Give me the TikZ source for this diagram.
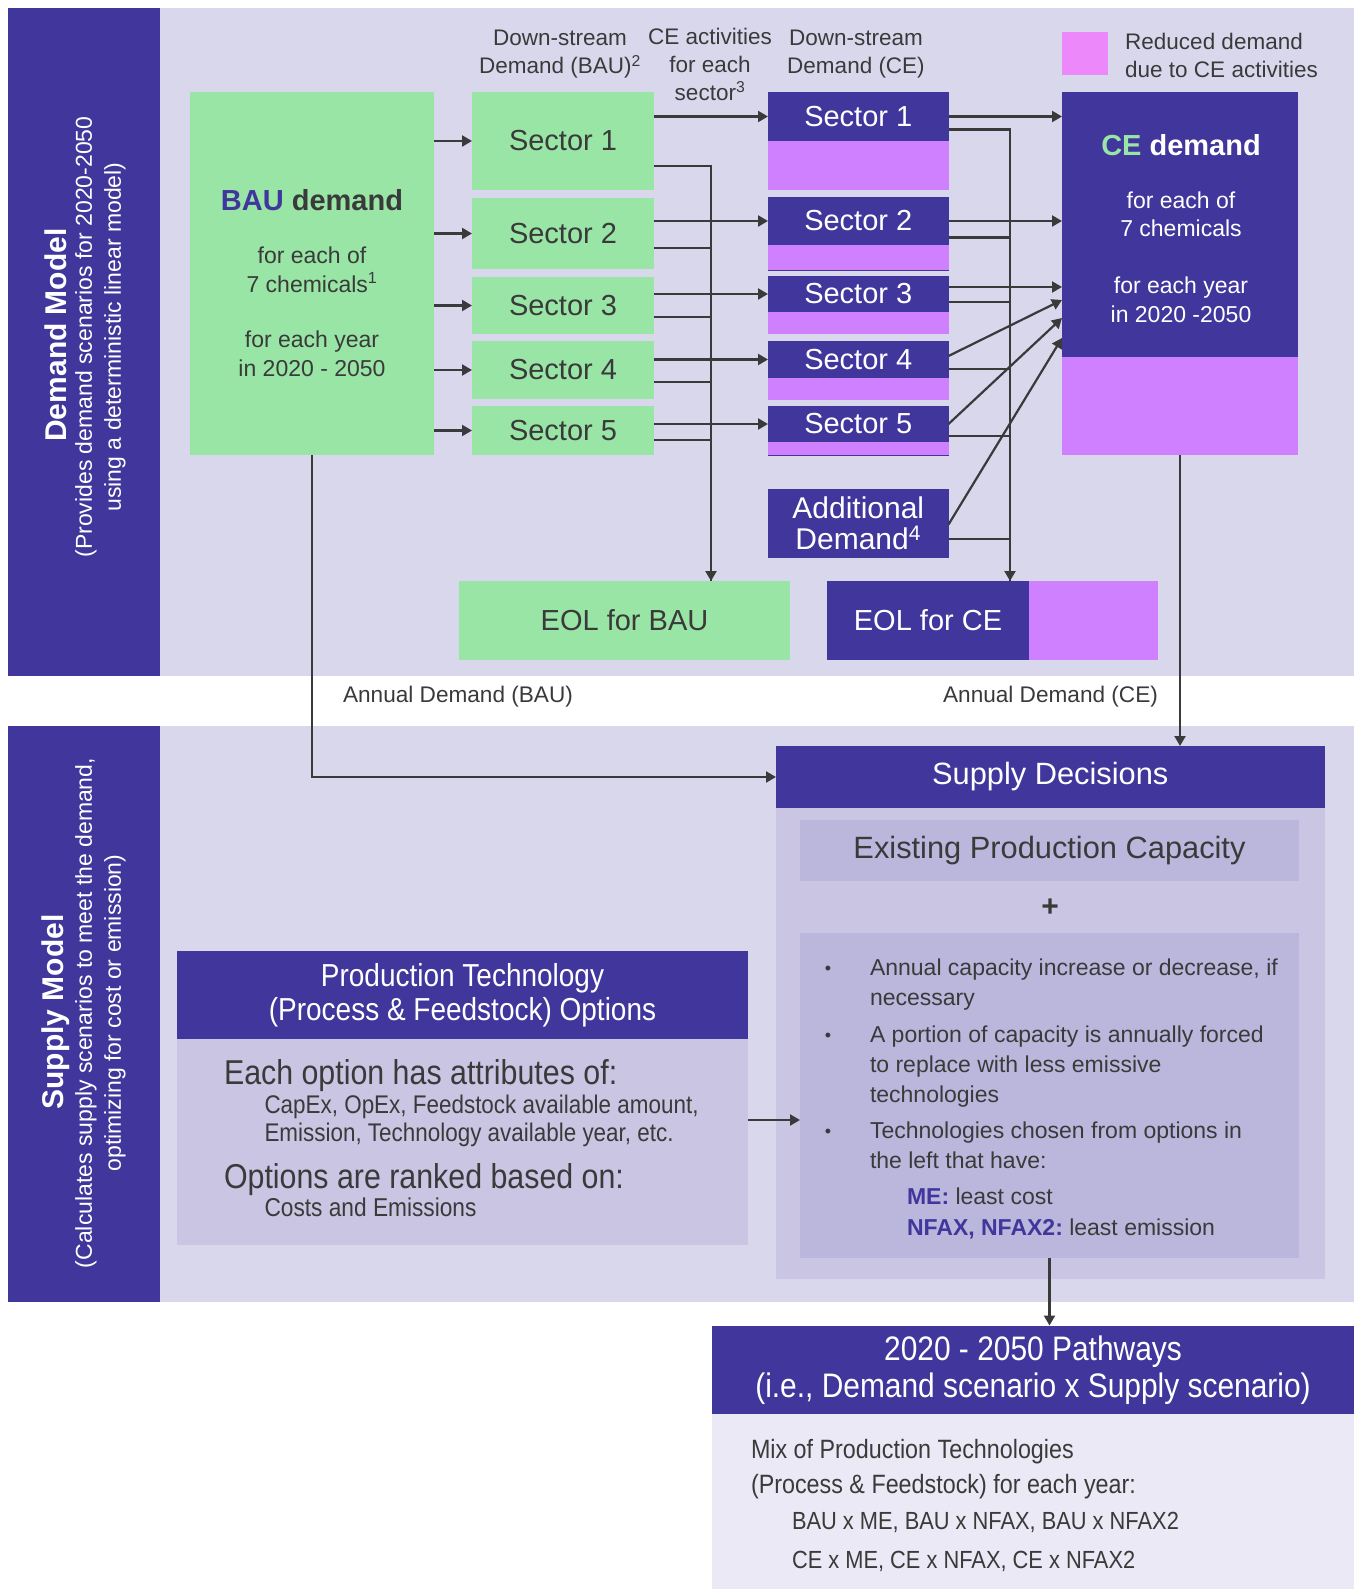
\documentclass[tikz,border=0pt]{standalone}
\usepackage{fontspec}
\setmainfont{Liberation Sans}
\newfontfamily\narrowf[FakeStretch=0.88]{Liberation Sans}
\usetikzlibrary{arrows.meta,calc}
\definecolor{dpurple}{RGB}{65,54,156}
\definecolor{lav}{RGB}{217,215,236}
\definecolor{lgreen}{RGB}{152,229,166}
\definecolor{vpink}{RGB}{206,128,255}
\definecolor{legpink}{RGB}{236,136,250}
\definecolor{midlav}{RGB}{201,197,227}
\definecolor{deeplav}{RGB}{187,182,220}
\definecolor{palelav}{RGB}{235,233,245}
\definecolor{txt}{RGB}{58,58,58}
\newcommand\myfs[2]{\fontsize{#1pt}{#2pt}\selectfont}
\begin{document}
\begin{tikzpicture}[x=1pt,y=-1pt,
  every node/.append style={text=txt},
  arr/.style={draw=txt, line width=2.2pt, -{Triangle[length=10pt,width=11pt]}},
  ln/.style={draw=txt, line width=2.2pt},
  blk/.style={inner sep=0pt, outer sep=0pt, draw=none},
  lbl/.style={inner sep=0pt, outer sep=0pt, align=center},
  lw/.style={inner sep=0pt, outer sep=0pt, anchor=mid west, align=left},
  sect/.style={blk, font=\myfs{29}{35}, minimum width=182pt},
  cesect/.style={blk, fill=dpurple, text=white, font=\myfs{29}{35}, minimum width=180.5pt},
  cepink/.style={blk, fill=vpink, minimum width=180.5pt}
]
\useasboundingbox (0,0) rectangle (1356,1589);
\fill[white] (0,0) rectangle (1356,1589);
% ---------- panels ----------
\fill[lav] (8,8) rectangle (1354,676);
\fill[dpurple] (8,8) rectangle (160,676);
\fill[lav] (8,726) rectangle (1354,1302);
\fill[dpurple] (8,726) rectangle (160,1302);
% side titles
\node[lbl, text=white, rotate=90, font=\myfs{30}{36}\bfseries] (dmt) at (56,335) {Demand Model};
\node[lbl, text=white, rotate=90, font=\myfs{23}{29}] (dms) at (100.5,337) {(Provides demand scenarios for 2020-2050\\using a deterministic linear model)};
\node[lbl, text=white, rotate=90, font=\myfs{30}{36}\bfseries] (smt) at (56,1012) {Supply Model};
\node[lbl, text=white, rotate=90, font=\myfs{23}{29}] (sms) at (100.5,1013) {(Calculates supply scenarios to meet the demand,\\optimizing for cost or emission)};
% ---------- column headings ----------
\node[lbl, font=\myfs{22.5}{28.5}] (h1) at (560,54) {Down-stream\\Demand (BAU)\textsuperscript{2}};
\node[lbl, font=\myfs{22.5}{28}] (h2) at (710,64) {CE activities\\for each\\sector\textsuperscript{3}};
\node[lbl, font=\myfs{22.5}{28.5}] (h3) at (856,54) {Down-stream\\Demand (CE)};
\node[blk, fill=legpink, minimum width=46pt, minimum height=43pt] (leg) at (1085,53.5) {};
\node[inner sep=0pt, anchor=west, align=left, font=\myfs{22.5}{28}] (legt) at (1125,55) {Reduced demand\\due to CE activities};
% ---------- BAU demand ----------
\node[blk, fill=lgreen, minimum width=244pt, minimum height=363pt] (bau) at (312,273.5) {};
\node[lbl, font=\myfs{29}{35}\bfseries] (baut) at (312,200) {\textcolor{dpurple}{BAU} demand};
\node[lbl, font=\myfs{23}{28.5}] (baub) at (312,312) {for each of\\7 chemicals\textsuperscript{1}\\[27pt]for each year\\in 2020 - 2050};
% BAU sectors
\node[sect, fill=lgreen, minimum height=98pt] (bs1) at (563,141) {Sector 1};
\node[sect, fill=lgreen, minimum height=71pt] (bs2) at (563,233.5) {Sector 2};
\node[sect, fill=lgreen, minimum height=57pt] (bs3) at (563,305.5) {Sector 3};
\node[sect, fill=lgreen, minimum height=58pt] (bs4) at (563,370) {Sector 4};
\node[sect, fill=lgreen, minimum height=49pt] (bs5) at (563,430.5) {Sector 5};
% CE sectors
\node[cesect, minimum height=49pt] (cs1) at (858.25,116.5) {Sector 1};
\node[cepink, minimum height=49pt] (cp1) at (858.25,165.5) {};
\node[cesect, minimum height=48pt] (cs2) at (858.25,221) {Sector 2};
\node[cepink, minimum height=25pt] (cp2) at (858.25,257.5) {};
\node[cesect, minimum height=36pt] (cs3) at (858.25,294) {Sector 3};
\node[cepink, minimum height=22pt] (cp3) at (858.25,323) {};
\node[cesect, minimum height=37pt] (cs4) at (858.25,359.5) {Sector 4};
\node[cepink, minimum height=22pt] (cp4) at (858.25,389) {};
\node[cesect, minimum height=36pt] (cs5) at (858.25,424) {Sector 5};
\node[cepink, minimum height=13pt] (cp5) at (858.25,448.5) {};
\draw[dpurple, line width=1pt] (cp2.south west) -- (cp2.south east);
\draw[dpurple, line width=1pt] (cp5.south west) -- (cp5.south east);
\node[cesect, align=center, font=\myfs{30}{31}, minimum height=69pt] (add) at (858.25,523.5) {Additional\\Demand\textsuperscript{4}};
% CE demand
\node[blk, fill=dpurple, minimum width=236pt, minimum height=265pt] (ced) at (1180,224.5) {};
\node[blk, fill=vpink, minimum width=236pt, minimum height=98pt] (cedp) at (1180,406) {};
\node[lbl, text=white, font=\myfs{29}{35}\bfseries] (cedt) at (1181,145) {\textcolor{lgreen}{CE} demand};
\node[lbl, text=white, font=\myfs{23}{28.5}] (cedb) at (1181,256.8) {for each of\\7 chemicals\\[28.5pt]for each year\\in 2020 -2050};
% EOL boxes
\node[blk, fill=lgreen, font=\myfs{29}{35}, minimum width=331pt, minimum height=79pt] (eolb) at (624.5,620.5) {EOL for BAU};
\node[blk, fill=dpurple, text=white, font=\myfs{29}{35}, minimum width=202pt, minimum height=79pt] (eolc) at (928,620.5) {EOL for CE};
\node[blk, fill=vpink, minimum width=129pt, minimum height=79pt] (eolcp) at (1093.5,620.5) {};
% ---------- connectors (demand) ----------
\foreach \s in {bs1,bs2,bs3,bs4,bs5} \draw[arr] (bau.east |- \s) -- (\s.west);
\draw[arr] (bs1.east |- cs1) -- (cs1.west);
\draw[arr] (bs2.east |- cs2) -- (cs2.west);
\draw[arr] (bs3.east |- cs3) -- (cs3.west);
\draw[arr] (bs4.east |- cs4) -- (cs4.west);
\draw[arr] (bs5.east |- cs5) -- (cs5.west);
\coordinate (bcol) at (711,581);
\draw[ln] ($(bs2.east)+(0,14.5)$) -| (bcol);
\draw[ln] ($(bs3.east)+(0,11.5)$) -| (bcol);
\draw[ln] ($(bs4.east)+(0,12)$) -| (bcol);
\draw[ln] ($(bs5.east)+(0,9.5)$) -| (bcol);
\draw[arr] ($(bs1.east)+(0,25)$) -| (bcol);
% CE sectors to CE demand
\draw[arr] (cs1.east) -- (cs1.east -| ced.west);
\draw[arr] (cs2.east) -- (cs2.east -| ced.west);
\draw[arr] ($(cs3.east)+(0,-7)$) -- ($(ced.north west)+(0,195)$);
\draw[arr] ($(cs4.east)+(0,-3.5)$) -- ($(ced.north west)+(0,208)$);
\draw[arr] (cs5.east) -- ($(ced.north west)+(0,226)$);
\draw[arr] ($(add.east)+(0,1)$) -- ($(ced.north west)+(0,246)$);
\coordinate (ccol) at (1010,581);
\draw[ln] ($(cs2.east)+(0,16.5)$) -| (ccol);
\draw[ln] ($(cs3.east)+(0,8)$) -| (ccol);
\draw[ln] ($(cs4.east)+(0,9.5)$) -| (ccol);
\draw[ln] ($(cs5.east)+(0,12)$) -| (ccol);
\draw[ln] ($(add.east)+(0,15.5)$) -| (ccol);
\draw[arr] ($(cs1.east)+(0,13)$) -| (ccol);
% annual demand labels
\node[lbl, font=\myfs{22.6}{26}] (adb) at (458,697) {Annual Demand (BAU)};
\node[lbl, font=\myfs{22.6}{26}] (adc) at (1050.5,697) {Annual Demand (CE)};
% ---------- supply decisions ----------
\node[blk, fill=midlav, minimum width=548.5pt, minimum height=533pt] (sdo) at (1050.25,1012.5) {};
\node[blk, fill=dpurple, text=white, font=\myfs{30.8}{35}, minimum width=548.5pt, minimum height=62pt] (sdh) at (1050.25,777) {Supply Decisions};
\node[blk, fill=deeplav, font=\myfs{30.8}{36}, minimum width=499pt, minimum height=61pt] (epc) at (1049.5,850.5) {Existing Production Capacity};
\node[lbl, font=\myfs{30}{36}\bfseries] (plus) at (1050,908) {+};
\node[blk, fill=deeplav, minimum width=499pt, minimum height=325pt] (bul) at (1049.5,1095.5) {};
\node[lbl, font=\myfs{18}{22}] (d1) at (828,970) {\textbullet};
\node[lbl, font=\myfs{18}{22}] (d2) at (828,1037) {\textbullet};
\node[lbl, font=\myfs{18}{22}] (d3) at (828,1133) {\textbullet};
\node[lw, font=\myfs{23}{26}] (b1a) at (870,972.5) {Annual capacity increase or decrease, if};
\node[lw, font=\myfs{23}{26}] (b1b) at (870,1002.5) {necessary};
\node[lw, font=\myfs{23}{26}] (b2a) at (870,1039.5) {A portion of capacity is annually forced};
\node[lw, font=\myfs{23}{26}] (b2b) at (870,1069.5) {to replace with less emissive};
\node[lw, font=\myfs{23}{26}] (b2c) at (870,1099.5) {technologies};
\node[lw, font=\myfs{23}{26}] (b3a) at (870,1135.5) {Technologies chosen from options in};
\node[lw, font=\myfs{23}{26}] (b3b) at (870,1165.5) {the left that have:};
\node[lw, font=\myfs{23}{26}] (b3c) at (907,1201.5) {\textcolor{dpurple}{\bfseries ME:} least cost};
\node[lw, font=\myfs{23}{26}] (b3d) at (907,1232.5) {\textcolor{dpurple}{\bfseries NFAX, NFAX2:}~least emission};
% ---------- production technology ----------
\node[blk, fill=dpurple, text=white, align=center, font=\narrowf\myfs{31.8}{34}, minimum width=571pt, minimum height=88pt] (pth) at (462.5,995) {Production Technology\\(Process \& Feedstock) Options};
\node[blk, fill=midlav, minimum width=571pt, minimum height=205.5pt] (ptb) at (462.5,1141.75) {};
\node[lw, font=\narrowf\myfs{34.5}{38}] (p1) at (224,1082) {Each option has attributes of:};
\node[lw, font=\narrowf\myfs{25.5}{29}] (p2) at (264.5,1110.5) {CapEx, OpEx, Feedstock available amount,};
\node[lw, font=\narrowf\myfs{25.5}{29}] (p3) at (264.5,1138.5) {Emission, Technology available year, etc.};
\node[lw, font=\narrowf\myfs{34.5}{38}] (p4) at (224,1186) {Options are ranked based on:};
\node[lw, font=\narrowf\myfs{25.8}{29}] (p5) at (264.5,1213.5) {Costs and Emissions};
% ---------- pathways ----------
\node[blk, fill=dpurple, text=white, align=center, font=\narrowf\myfs{34}{37}, minimum width=642pt, minimum height=88.5pt] (pwh) at (1033,1369.75) {2020 - 2050 Pathways\\(i.e., Demand scenario x Supply scenario)};
\node[blk, fill=palelav, minimum width=642pt, minimum height=175pt] (pwb) at (1033,1501.5) {};
\node[lw, font=\narrowf\myfs{26.5}{30}] (w1) at (751,1456) {Mix of Production Technologies};
\node[lw, font=\narrowf\myfs{26.5}{30}] (w2) at (751,1491) {(Process \& Feedstock) for each year:};
\node[lw, font=\narrowf\myfs{24.8}{30}] (w3) at (792,1526.5) {BAU x ME, BAU x NFAX, BAU x NFAX2};
\node[lw, font=\narrowf\myfs{24.8}{30}] (w4) at (792,1565.5) {CE x ME, CE x NFAX, CE x NFAX2};
% ---------- connectors (supply) ----------
\draw[arr] (bau.south) |- (sdh.west);
\draw[arr] (cedp.south) -- (cedp.south |- sdh.north);
\coordinate (pa) at ($(ptb.east)+(0,-21.75)$);
\draw[arr] (pa) -- (pa -| bul.west);
\draw[arr] (bul.south) -- (bul.south |- pwh.north);
\end{tikzpicture}
\end{document}
